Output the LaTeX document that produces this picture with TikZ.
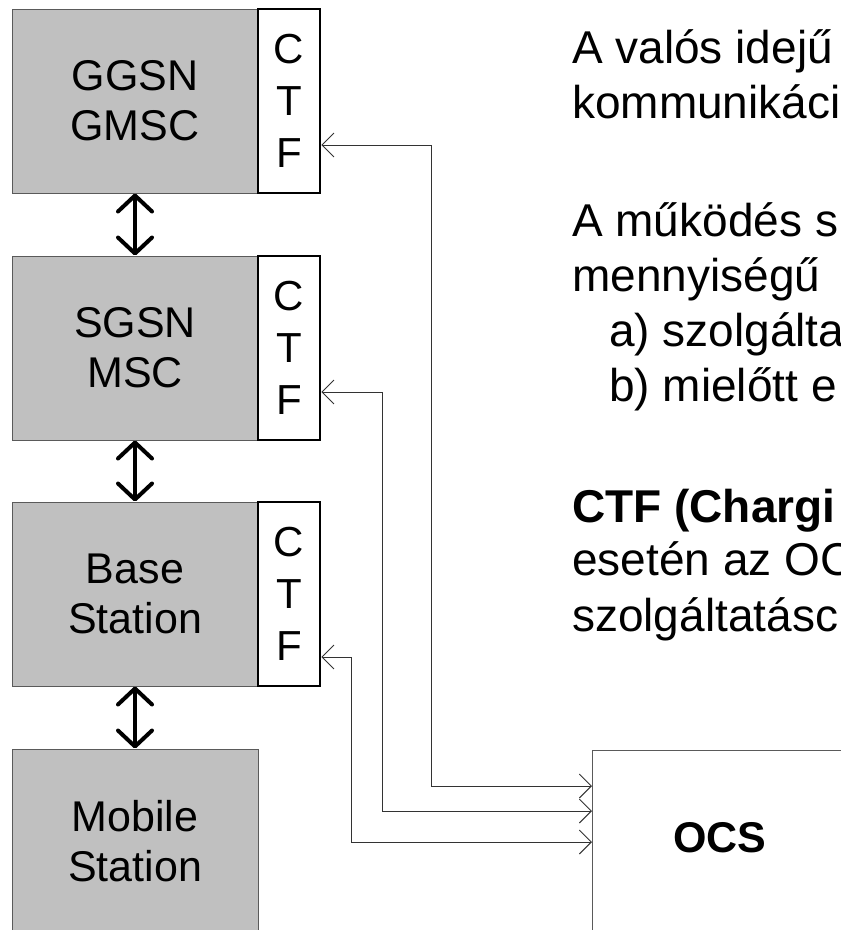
\documentclass[tikz,border=0pt]{standalone}
\usepackage{fontspec}
\setmainfont{Liberation Sans}
\usetikzlibrary{arrows.meta}
\definecolor{boxgray}{HTML}{C0C0C0}
\definecolor{edgegray}{HTML}{5A5A5A}
\definecolor{linegray}{HTML}{333333}
\begin{document}
\begin{tikzpicture}[x=1pt,y=-1pt,
  graybox/.style={draw=edgegray, line width=1pt, fill=boxgray, minimum width=246pt, minimum height=184pt,
    inner sep=0pt, align=center, font=\fontsize{43}{50}\selectfont},
  ctfbox/.style={draw=black, line width=2.6pt, fill=white, minimum width=62pt, minimum height=184pt,
    inner sep=0pt, align=center, font=\fontsize{42}{52}\selectfont},
  ocsbox/.style={draw=edgegray, line width=1pt, fill=white, minimum width=400pt, minimum height=300pt,
    inner sep=0pt, anchor=north west},
  link/.style={draw=linegray, line width=0.9pt,
    {Straight Barb[length=12pt,width=24pt]}-{Straight Barb[length=12pt,width=24pt]}},
  bigarrow/.style={line width=4pt,
    {Straight Barb[length=16pt,width=34pt,round]}-{Straight Barb[length=16pt,width=34pt,round]}},
  sidetext/.style={anchor=base west, inner sep=0pt, font=\fontsize{46}{55}\selectfont}
]
\useasboundingbox (0,0) rectangle (841,930);
\clip (0,0) rectangle (841,930);
\fill[white] (0,0) rectangle (841,930);

% left column
\node[graybox] (g1) at (135,101) {GGSN\\GMSC};
\node[ctfbox]  (c1) at (289,101) {C\\T\\F};
\node[graybox] (g2) at (135,348) {SGSN\\MSC};
\node[ctfbox]  (c2) at (289,348) {C\\T\\F};
\node[graybox] (g3) at (135,594) {Base\\Station};
\node[ctfbox]  (c3) at (289,594) {C\\T\\F};
\node[graybox] (g4) at (135,841) {Mobile\\Station};

\draw[bigarrow] (g1.south) -- (g2.north);
\draw[bigarrow] (g2.south) -- (g3.north);
\draw[bigarrow] (g3.south) -- (g4.north);

% OCS
\node[ocsbox] (ocs) at (592,750) {};
\node[font=\fontsize{43}{50}\selectfont\bfseries, inner sep=0pt] (ocslabel) at (720,838) {OCS};

% connectors
\draw[link] ([yshift=-44pt]c1.east) -| (431,786) -- ([yshift=-36pt]ocs.north west);
\draw[link] ([yshift=-44pt]c2.east) -| (382,811) -- ([yshift=-61pt]ocs.north west);
\draw[link] ([yshift=-63pt]c3.east) -| (351,842) -- ([yshift=-92pt]ocs.north west);

% right-hand text
\node[sidetext] (t1) at (572,63)  {A valós idejű};
\node[sidetext] (t2) at (572,118) {kommunikáci};
\node[sidetext] (t3) at (572,236) {A működés s};
\node[sidetext] (t4) at (572,291) {mennyiségű};
\node[sidetext] (t5) at (609,346) {a) szolgálta};
\node[sidetext] (t6) at (609,401) {b) mielőtt e};
\node[sidetext, font=\fontsize{46}{55}\selectfont\bfseries] (t7) at (572,522) {CTF (Chargi};
\node[sidetext] (t8) at (572,575) {esetén az OC};
\node[sidetext] (t9) at (572,631) {szolgáltatásc};
\end{tikzpicture}
\end{document}
